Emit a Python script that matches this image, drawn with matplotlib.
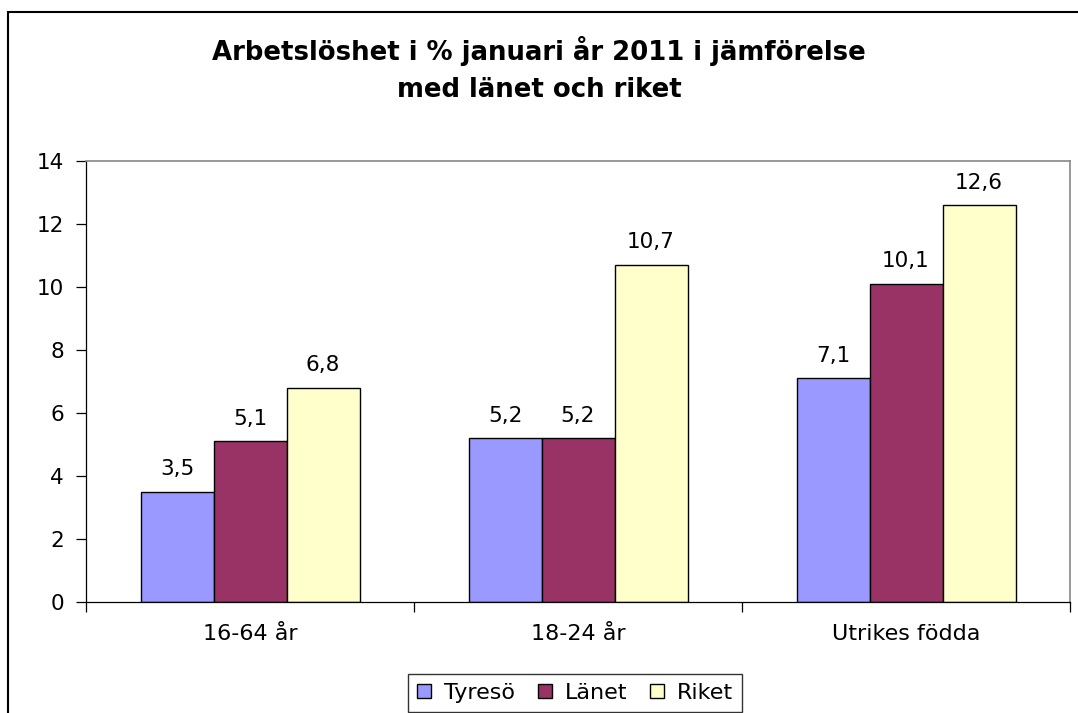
import matplotlib
matplotlib.use("Agg")
import matplotlib.pyplot as plt
import numpy as np
from matplotlib.patches import Rectangle

categories = ["16-64 år", "18-24 år", "Utrikes födda"]
series_names = ["Tyresö", "Länet", "Riket"]
tyreso = [3.5, 5.2, 7.1]
lanet = [5.1, 5.2, 10.1]
riket = [6.8, 10.7, 12.6]
colors = ["#9999FF", "#993366", "#FFFFCC"]

plt.rcParams['font.family'] = ['DejaVu Sans']

fig = plt.figure(figsize=(10.78, 7.13), dpi=100)
ax = fig.add_axes([86/1078, 1-602/713, (1070-86)/1078, (602-161)/713])

x = np.arange(len(categories))
w = 73/328
for i, (vals, col, name) in enumerate(zip([tyreso, lanet, riket], colors, series_names)):
    pos = x + (i-1)*w
    ax.bar(pos, vals, width=w, color=col, edgecolor='black', linewidth=1.0, label=name)
    for p, v in zip(pos, vals):
        ax.annotate(f"{v:.1f}".replace('.', ','), (p, v), xytext=(0, 9), textcoords='offset points',
                    ha='center', va='bottom', fontsize=15.5)

ax.set_xlim(-0.5, 2.5)
ax.set_ylim(0, 14)
ax.set_yticks(range(0, 15, 2))
ax.tick_params(axis='y', labelsize=15.5, length=7, width=0.9, direction='out', pad=9)
ax.set_xticks([-0.5, 0.5, 1.5, 2.5])
ax.set_xticklabels([])
ax.set_xticks(x, minor=True)
ax.set_xticklabels(categories, minor=True, fontsize=16)
ax.tick_params(axis='x', which='major', length=7, width=0.9, direction='out')
ax.tick_params(axis='x', which='minor', length=0, pad=16)
for s in ['left', 'bottom']:
    ax.spines[s].set_color('black')
    ax.spines[s].set_linewidth(0.9)
for s in ['top', 'right']:
    ax.spines[s].set_color('#888888')
    ax.spines[s].set_linewidth(1.2)

fig.text(0.5, 1-51/713, "Arbetslöshet i % januari år 2011 i jämförelse", ha='center', va='center',
         fontsize=18.7, fontweight='bold')
fig.text(0.5, 1-90/713, "med länet och riket", ha='center', va='center',
         fontsize=18.7, fontweight='bold')

leg = ax.legend(loc='center', bbox_to_anchor=(575/1078, 1-693/713), bbox_transform=fig.transFigure,
                ncol=3, fontsize=16, frameon=True, fancybox=False, edgecolor='black',
                handlelength=0.63, handleheight=0.63, handletextpad=0.6, columnspacing=1.0,
                borderpad=0.4)
leg.get_frame().set_linewidth(1.0)

fig.patches.append(Rectangle((8/1078, -0.1), 1.2, 1-12/713+0.1, transform=fig.transFigure,
                             fill=False, edgecolor='black', linewidth=1.5, clip_on=False))

fig.savefig("out.png", dpi=100)
